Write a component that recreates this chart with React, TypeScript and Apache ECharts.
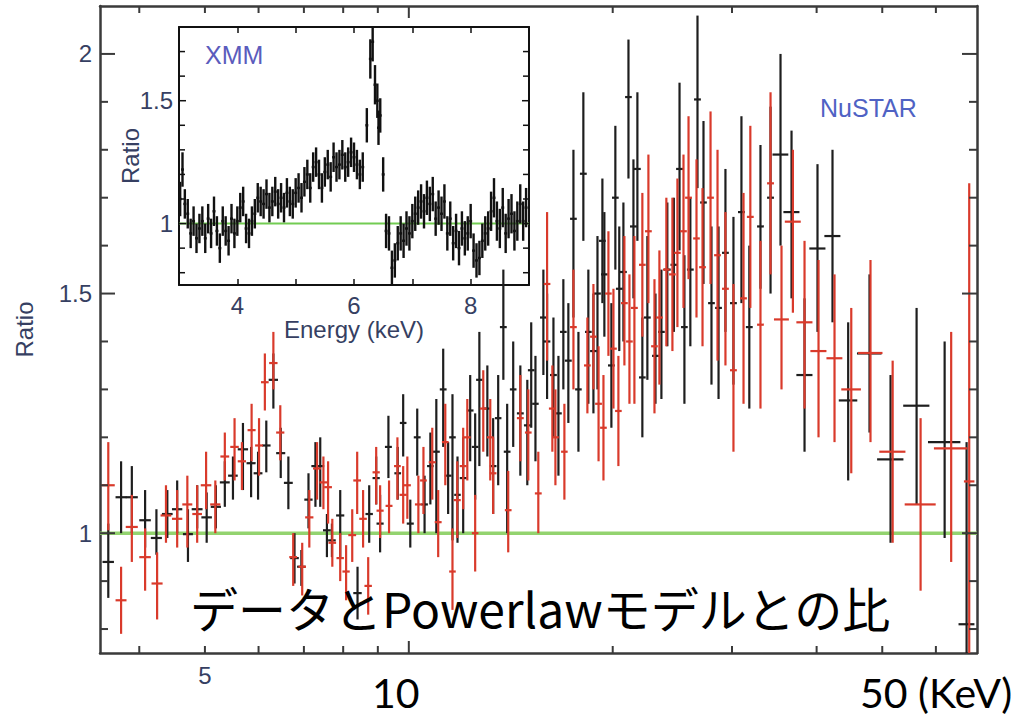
import React, { useEffect, useRef } from 'react';
import * as echarts from 'echarts';

// ---------------- NuSTAR FPMA (black) ----------------
const fpmaEnergy = [
  3.60, 3.76, 3.90, 4.08, 4.24, 4.40, 4.55, 4.72, 4.87, 5.03,
  5.19, 5.35, 5.50, 5.69, 5.85, 5.99, 6.16, 6.31, 6.47, 6.64,
  6.78, 6.94, 7.11, 7.28, 7.40, 7.57, 7.70, 7.92, 8.40, 8.74,
  8.95, 9.07, 9.33, 9.63, 9.81, 10.05, 10.29, 10.55, 10.76, 10.98,
  11.24, 11.43, 11.60, 11.80, 12.03, 12.32, 12.53, 12.71, 13.06, 13.32,
  13.55, 13.79, 13.97, 14.26, 14.61, 14.96, 15.16, 15.38, 15.80, 16.00,
  16.35, 16.63, 16.91, 17.20, 17.50, 17.80, 18.10, 18.41, 18.73, 18.99,
  19.31, 19.44, 19.91, 20.18, 20.45, 20.74, 21.10, 21.46, 21.75, 22.12,
  22.50, 23.13, 23.60, 24.08, 24.62, 25.10, 25.52, 26.04, 26.68, 27.23,
  27.98, 28.66, 29.34, 30.15, 30.98, 31.82, 33.05, 34.20, 35.38, 36.73,
  38.39, 40.12, 42.22, 44.53, 47.88, 51.43, 56.19, 61.81, 66.60,
];
const fpmaHalfWidth = [
  0.07, 0.07, 0.08, 0.08, 0.08, 0.08, 0.08, 0.08, 0.09, 0.09,
  0.09, 0.09, 0.09, 0.10, 0.09, 0.09, 0.09, 0.10, 0.10, 0.10,
  0.10, 0.10, 0.10, 0.10, 0.10, 0.10, 0.10, 0.11, 0.12, 0.11,
  0.11, 0.11, 0.11, 0.11, 0.11, 0.12, 0.12, 0.12, 0.12, 0.13,
  0.13, 0.13, 0.13, 0.13, 0.14, 0.14, 0.14, 0.14, 0.15, 0.15,
  0.15, 0.16, 0.16, 0.16, 0.17, 0.17, 0.17, 0.17, 0.18, 0.18,
  0.19, 0.19, 0.19, 0.20, 0.20, 0.20, 0.21, 0.21, 0.21, 0.22,
  0.22, 0.22, 0.23, 0.23, 0.23, 0.24, 0.24, 0.25, 0.25, 0.25,
  0.26, 0.27, 0.27, 0.28, 0.28, 0.29, 0.29, 0.30, 0.31, 0.31,
  0.32, 0.33, 0.34, 0.35, 0.36, 0.37, 0.38, 0.40, 0.95, 1.00,
  1.05, 1.10, 1.15, 1.40, 2.00, 2.30, 2.50, 3.40, 1.80,
];
const fpmaRatio = [
  0.94, 1.075, 1.075, 1.027, 0.99, 1.04, 1.05, 0.998, 1.05, 1.033,
  1.055, 1.106, 1.12, 1.175, 1.146, 1.125, 1.183, 1.32, 1.167, 1.105,
  0.948, 0.93, 1.07, 1.14, 1.14, 1.006, 0.985, 1.037, 0.875, 1.04,
  1.115, 1.02, 1.18, 1.125, 1.23, 1.02, 1.20, 1.06, 1.14, 1.17,
  1.30, 1.12, 1.20, 1.08, 1.115, 1.256, 1.18, 1.32, 1.26, 1.14,
  1.24, 1.43, 1.17, 1.30, 1.25, 1.225, 1.34, 1.27, 1.45, 1.40,
  1.33, 1.25, 1.42, 1.36, 1.656, 1.30, 1.75, 1.42, 1.38, 1.50,
  1.61, 1.54, 1.35, 1.70, 1.51, 1.545, 1.91, 1.64, 1.76, 1.325,
  1.45, 1.37, 1.42, 1.55, 1.56, 1.76, 1.43, 1.55, 1.905, 1.69,
  1.48, 1.47, 1.585, 1.48, 1.67, 1.43, 1.64, 1.70, 1.79, 1.67,
  1.33, 1.594, 1.62, 1.277, 1.375, 1.154, 1.266, 1.19, 0.81,
];
const fpmaLow = [
  0.865, 1.00, 1.00, 0.97, 0.955, 0.99, 1.00, 0.94, 1.01, 0.98,
  1.01, 1.055, 1.07, 1.09, 1.075, 1.07, 1.127, 1.26, 1.115, 1.05,
  0.895, 0.89, 1.01, 1.055, 1.055, 0.95, 0.95, 0.95, 0.82, 0.98,
  1.06, 0.96, 1.115, 1.07, 1.16, 0.97, 1.12, 1.00, 1.06, 1.00,
  1.18, 1.04, 0.985, 0.98, 1.00, 1.15, 1.07, 1.14, 1.16, 1.04,
  1.10, 1.32, 1.00, 1.18, 1.12, 1.10, 1.22, 1.15, 1.33, 1.28,
  1.20, 1.12, 1.30, 1.23, 1.45, 1.17, 1.61, 1.27, 1.25, 1.30,
  1.48, 1.41, 1.22, 1.55, 1.38, 1.40, 1.74, 1.49, 1.61, 1.20,
  1.32, 1.27, 1.28, 1.39, 1.42, 1.59, 1.27, 1.39, 1.72, 1.52,
  1.31, 1.28, 1.42, 1.31, 1.48, 1.26, 1.51, 1.50, 1.60, 1.49,
  1.17, 1.42, 1.44, 1.11, 1.21, 0.98, 1.06, 0.99, 0.70,
];
const fpmaHigh = [
  1.02, 1.15, 1.14, 1.09, 1.05, 1.09, 1.11, 1.05, 1.10, 1.085,
  1.10, 1.15, 1.16, 1.23, 1.18, 1.17, 1.235, 1.375, 1.22, 1.16,
  1.00, 0.965, 1.125, 1.19, 1.20, 1.04, 1.02, 1.09, 0.93, 1.10,
  1.16, 1.08, 1.245, 1.18, 1.29, 1.07, 1.26, 1.12, 1.21, 1.28,
  1.385, 1.19, 1.29, 1.16, 1.20, 1.33, 1.25, 1.42, 1.35, 1.24,
  1.33, 1.55, 1.27, 1.40, 1.35, 1.32, 1.44, 1.37, 1.55, 1.50,
  1.45, 1.37, 1.53, 1.48, 1.80, 1.42, 1.92, 1.55, 1.50, 1.62,
  1.74, 1.67, 1.48, 1.85, 1.64, 1.69, 2.03, 1.78, 1.92, 1.45,
  1.62, 1.50, 1.55, 1.69, 1.70, 1.94, 1.58, 1.70, 2.08, 1.86,
  1.64, 1.64, 1.76, 1.66, 1.87, 1.60, 1.81, 1.89, 2.00, 1.84,
  1.49, 1.77, 1.80, 1.44, 1.54, 1.33, 1.47, 1.40, 1.19,
];

// ---------------- NuSTAR FPMB (red) ----------------
const fpmbEnergy = [
  3.60, 3.76, 3.90, 4.08, 4.25, 4.38, 4.55, 4.71, 4.87, 5.02,
  5.18, 5.35, 5.53, 5.67, 5.86, 6.01, 6.13, 6.31, 6.46, 6.75,
  6.96, 7.13, 7.32, 7.48, 7.60, 7.71, 7.92, 8.08, 8.25, 8.39,
  8.56, 8.71, 8.95, 9.07, 9.35, 9.62, 9.81, 9.95, 10.33, 10.51,
  10.83, 11.05, 11.32, 11.60, 11.79, 12.03, 12.20, 12.53, 12.88, 13.19,
  13.32, 14.02, 14.61, 15.01, 15.53, 16.00, 16.29, 16.46, 16.97, 17.50,
  18.35, 18.73, 19.06, 19.38, 19.71, 20.05, 20.39, 20.81, 21.17, 21.53,
  22.12, 22.58, 23.05, 23.44, 24.00, 24.50, 24.92, 25.44, 25.88, 26.59,
  27.14, 27.89, 28.56, 29.34, 30.15, 31.20, 31.93, 33.05, 34.20, 35.50,
  36.90, 38.39, 40.26, 42.51, 45.00, 48.04, 51.80, 56.96, 63.20, 67.20,
];
const fpmbHalfWidth = [
  0.08, 0.07, 0.08, 0.08, 0.08, 0.08, 0.08, 0.08, 0.08, 0.09,
  0.09, 0.08, 0.08, 0.08, 0.08, 0.08, 0.08, 0.09, 0.09, 0.09,
  0.09, 0.10, 0.10, 0.10, 0.10, 0.10, 0.10, 0.10, 0.11, 0.11,
  0.11, 0.11, 0.11, 0.11, 0.11, 0.11, 0.12, 0.12, 0.12, 0.12,
  0.13, 0.13, 0.13, 0.13, 0.14, 0.14, 0.14, 0.14, 0.15, 0.15,
  0.15, 0.16, 0.17, 0.17, 0.18, 0.18, 0.19, 0.19, 0.19, 0.20,
  0.21, 0.21, 0.22, 0.22, 0.22, 0.23, 0.23, 0.24, 0.24, 0.25,
  0.25, 0.26, 0.26, 0.27, 0.27, 0.28, 0.28, 0.29, 0.30, 0.30,
  0.31, 0.32, 0.33, 0.34, 0.35, 0.36, 0.37, 0.38, 0.40, 0.90,
  1.00, 1.05, 1.10, 1.15, 1.50, 2.00, 2.30, 3.00, 3.60, 1.20,
];
const fpmbRatio = [
  1.10, 0.86, 1.013, 0.95, 0.895, 1.037, 1.03, 1.06, 1.04, 1.10,
  1.06, 1.16, 1.18, 1.15, 1.215, 1.183, 1.315, 1.355, 1.21, 0.95,
  0.93, 1.033, 1.135, 1.106, 1.096, 0.98, 0.948, 0.92, 0.996, 1.11,
  1.03, 0.89, 1.127, 1.047, 1.057, 1.14, 1.08, 1.10, 1.06, 1.11,
  1.148, 1.023, 1.19, 0.92, 1.069, 1.14, 1.20, 1.00, 1.26, 1.20,
  1.125, 1.048, 1.24, 1.21, 1.083, 1.52, 1.26, 1.20, 1.17, 1.43,
  1.35, 1.41, 1.27, 1.22, 1.50, 1.385, 1.255, 1.48, 1.40, 1.47,
  1.56, 1.63, 1.39, 1.45, 1.55, 1.54, 1.585, 1.63, 1.70, 1.615,
  1.555, 1.70, 1.58, 1.51, 1.34, 1.49, 1.66, 1.435, 1.73, 1.446,
  1.65, 1.44, 1.38, 1.365, 1.30, 1.376, 1.17, 1.06, 1.177, 1.108,
];
const fpmbLow = [
  1.006, 0.79, 0.94, 0.88, 0.82, 0.98, 0.97, 0.97, 0.98, 1.05,
  1.00, 1.11, 1.11, 1.09, 1.15, 1.12, 1.256, 1.30, 1.152, 0.89,
  0.87, 0.97, 1.07, 1.05, 1.02, 0.93, 0.90, 0.86, 0.94, 1.04,
  0.97, 0.83, 1.06, 0.99, 1.00, 1.07, 1.02, 1.03, 1.00, 1.04,
  1.07, 0.95, 1.10, 0.84, 0.99, 1.05, 1.11, 0.92, 1.17, 1.11,
  1.04, 0.96, 1.15, 1.11, 1.00, 1.36, 1.17, 1.10, 1.07, 1.30,
  1.25, 1.30, 1.15, 1.11, 1.37, 1.26, 1.14, 1.35, 1.27, 1.27,
  1.41, 1.48, 1.25, 1.31, 1.39, 1.38, 1.43, 1.47, 1.53, 1.45,
  1.39, 1.52, 1.36, 1.35, 1.17, 1.27, 1.47, 1.26, 1.54, 1.30,
  1.46, 1.26, 1.20, 1.19, 1.125, 1.19, 0.98, 0.88, 0.94, 0.70,
];
const fpmbHigh = [
  1.19, 0.93, 1.08, 1.01, 0.96, 1.10, 1.09, 1.12, 1.10, 1.17,
  1.11, 1.21, 1.24, 1.19, 1.27, 1.24, 1.375, 1.42, 1.267, 1.00,
  0.98, 1.09, 1.19, 1.16, 1.15, 1.03, 1.00, 0.975, 1.05, 1.17,
  1.09, 0.95, 1.18, 1.10, 1.11, 1.20, 1.14, 1.16, 1.12, 1.18,
  1.22, 1.09, 1.27, 1.01, 1.15, 1.22, 1.28, 1.08, 1.34, 1.28,
  1.20, 1.13, 1.33, 1.30, 1.17, 1.67, 1.35, 1.30, 1.27, 1.55,
  1.45, 1.52, 1.39, 1.33, 1.63, 1.51, 1.37, 1.62, 1.54, 1.62,
  1.71, 1.79, 1.53, 1.59, 1.70, 1.70, 1.74, 1.79, 1.87, 1.78,
  1.72, 1.88, 1.80, 1.67, 1.52, 1.71, 1.85, 1.61, 1.92, 1.60,
  1.80, 1.61, 1.57, 1.54, 1.47, 1.57, 1.36, 1.24, 1.42, 1.73,
];

// ---------------- XMM inset ----------------
const xmmEnergy = [
  3.02, 3.06, 3.10, 3.15, 3.20, 3.25, 3.30, 3.35, 3.40, 3.45,
  3.50, 3.55, 3.60, 3.65, 3.70, 3.75, 3.80, 3.85, 3.90, 3.95,
  4.00, 4.05, 4.10, 4.15, 4.20, 4.25, 4.30, 4.35, 4.40, 4.45,
  4.50, 4.55, 4.60, 4.65, 4.70, 4.75, 4.80, 4.85, 4.90, 4.95,
  5.00, 5.05, 5.10, 5.15, 5.20, 5.25, 5.30, 5.35, 5.40, 5.45,
  5.50, 5.55, 5.60, 5.65, 5.70, 5.75, 5.80, 5.85, 5.90, 5.95,
  6.00, 6.05, 6.10, 6.15, 6.22, 6.28, 6.32, 6.36, 6.40, 6.42,
  6.45, 6.50, 6.55, 6.60, 6.65, 6.70, 6.75, 6.80, 6.85, 6.90,
  6.95, 7.00, 7.05, 7.10, 7.15, 7.20, 7.25, 7.30, 7.35, 7.40,
  7.45, 7.50, 7.55, 7.60, 7.65, 7.70, 7.75, 7.80, 7.85, 7.90,
  7.95, 8.00, 8.05, 8.10, 8.15, 8.20, 8.25, 8.30, 8.35, 8.40,
  8.45, 8.50, 8.55, 8.60, 8.65, 8.70, 8.75, 8.80, 8.85, 8.90,
  8.95,
];
const xmmRatio = [
  1.10, 1.22, 1.08, 1.04, 0.96, 1.01, 0.94, 0.98, 1.01, 0.94,
  1.02, 0.96, 1.05, 0.97, 0.90, 1.01, 0.97, 0.93, 1.02, 0.96,
  1.01, 1.065, 1.09, 0.98, 0.96, 1.01, 1.04, 1.105, 1.09, 1.08,
  1.12, 1.065, 1.09, 1.13, 1.08, 1.105, 1.065, 1.125, 1.09, 1.08,
  1.125, 1.145, 1.105, 1.17, 1.20, 1.145, 1.23, 1.25, 1.20, 1.145,
  1.21, 1.24, 1.19, 1.27, 1.23, 1.24, 1.28, 1.23, 1.25, 1.29,
  1.27, 1.24, 1.20, 1.23, 1.40, 1.67, 1.74, 1.565, 1.50, 1.39,
  1.44, 1.20, 0.97, 0.96, 0.82, 0.85, 0.92, 0.96, 0.93, 0.98,
  0.96, 1.01, 1.04, 1.065, 1.09, 1.05, 1.105, 1.08, 1.12, 1.02,
  1.065, 1.04, 1.09, 0.96, 1.02, 0.92, 0.97, 0.90, 0.98, 0.94,
  0.96, 1.01, 0.89, 0.85, 0.86, 0.93, 0.96, 0.98, 1.05, 1.105,
  1.01, 0.98, 1.065, 0.96, 1.02, 1.04, 0.97, 1.01, 1.08, 1.01,
  1.065,
];
const xmmError = [
  0.07, 0.07, 0.06, 0.06, 0.06, 0.06, 0.06, 0.06, 0.06, 0.06,
  0.06, 0.06, 0.06, 0.06, 0.06, 0.06, 0.06, 0.06, 0.06, 0.06,
  0.06, 0.06, 0.06, 0.06, 0.06, 0.06, 0.06, 0.06, 0.06, 0.06,
  0.06, 0.06, 0.06, 0.06, 0.06, 0.06, 0.06, 0.06, 0.06, 0.06,
  0.06, 0.06, 0.06, 0.06, 0.06, 0.06, 0.06, 0.06, 0.06, 0.06,
  0.06, 0.06, 0.06, 0.06, 0.06, 0.06, 0.06, 0.06, 0.06, 0.06,
  0.06, 0.06, 0.06, 0.06, 0.07, 0.08, 0.08, 0.08, 0.07, 0.07,
  0.07, 0.07, 0.07, 0.07, 0.07, 0.07, 0.07, 0.07, 0.07, 0.07,
  0.07, 0.07, 0.07, 0.07, 0.07, 0.07, 0.07, 0.07, 0.07, 0.07,
  0.07, 0.07, 0.07, 0.07, 0.07, 0.07, 0.07, 0.07, 0.07, 0.07,
  0.07, 0.07, 0.07, 0.07, 0.07, 0.07, 0.07, 0.07, 0.08, 0.08,
  0.08, 0.08, 0.08, 0.08, 0.08, 0.08, 0.08, 0.08, 0.08, 0.08,
  0.08,
];
const xmmHalfWidth = 0.025;

// model (power law) ratio
const modelRatio = 1;

// ticks
const mainXTicks = [4, 5, 6, 7, 8, 9, 10, 20, 30, 40, 50, 60];
const mainXMajorTicks = [10];
const mainXTickLabels = [5];
const mainYTicks = [0.8, 0.9, 1, 1.1, 1.2, 1.3, 1.4, 1.5, 1.6, 1.7, 1.8, 1.9, 2];
const mainYMajorTicks = [1, 1.5, 2];
const mainYTickLabels = [1, 1.5, 2];
const insetYTicks = [0.8, 0.9, 1, 1.1, 1.2, 1.3, 1.4, 1.5, 1.6, 1.7];
const insetYMajorTicks = [1, 1.5];
const insetYTickLabels = [1, 1.5];

// axis ranges
const MAIN_X = [3.5, 69];
const MAIN_Y = [0.75, 2.1];
const INSET_X = [3, 9];
const INSET_Y = [0.75, 1.8];

const LABEL_FONT = '"Liberation Sans", Arial, Helvetica, sans-serif';
const LABEL_COLOR = '#363f62';
const AXIS_COLOR = '#3a3a3a';

function errorBarSeries(name, xi, yi, energy, halfW, ratio, low, high, xr, yr, color, width, z) {
  return {
    type: 'custom',
    name,
    xAxisIndex: xi,
    yAxisIndex: yi,
    z,
    data: energy.map((e, i) => [e, ratio[i], low[i], high[i], halfW[i]]),
    encode: { x: 0, y: 1 },
    renderItem: (params, api) => {
      const e = api.value(0);
      const r = api.value(1);
      const lo = Math.max(api.value(2), yr[0]);
      const hi = Math.min(api.value(3), yr[1]);
      const dw = api.value(4);
      const c = api.coord([e, r]);
      const top = api.coord([e, hi]);
      const bot = api.coord([e, lo]);
      const l = api.coord([Math.max(e - dw, xr[0]), r]);
      const rr = api.coord([Math.min(e + dw, xr[1]), r]);
      const children = [
        { type: 'line', shape: { x1: c[0], y1: top[1], x2: c[0], y2: bot[1] }, style: { stroke: color, lineWidth: width } },
      ];
      if (r >= yr[0] && r <= yr[1]) {
        children.push({ type: 'line', shape: { x1: l[0], y1: c[1], x2: rr[0], y2: c[1] }, style: { stroke: color, lineWidth: width } });
      }
      return { type: 'group', children };
    },
  };
}

function tickSeries(opts) {
  const { xi, yi, orient, values, majors, labels, otherRange, majorLen, minorLen, color, width, labelSize, labelGap, labelText } = opts;
  return {
    type: 'custom',
    xAxisIndex: xi,
    yAxisIndex: yi,
    z: 6,
    silent: true,
    data: values.map((v) => (orient === 'x' ? [v, otherRange[0]] : [otherRange[0], v])),
    encode: { x: 0, y: 1 },
    renderItem: (params, api) => {
      const v = api.value(orient === 'x' ? 0 : 1);
      const p0 = orient === 'x' ? api.coord([v, otherRange[0]]) : api.coord([otherRange[0], v]);
      const p1 = orient === 'x' ? api.coord([v, otherRange[1]]) : api.coord([otherRange[1], v]);
      const len = majors.indexOf(v) >= 0 ? majorLen : minorLen;
      const st = { stroke: color, lineWidth: width };
      const children = [];
      if (orient === 'x') {
        children.push({ type: 'line', shape: { x1: p0[0], y1: p0[1], x2: p0[0], y2: p0[1] - len }, style: st });
        children.push({ type: 'line', shape: { x1: p1[0], y1: p1[1], x2: p1[0], y2: p1[1] + len }, style: st });
        if (labels.indexOf(v) >= 0) {
          children.push({
            type: 'text', x: p0[0], y: p0[1] + labelGap,
            style: { text: labelText(v), fill: LABEL_COLOR, font: `${labelSize}px ${LABEL_FONT}`, textAlign: 'center', textVerticalAlign: 'middle' },
          });
        }
      } else {
        children.push({ type: 'line', shape: { x1: p0[0], y1: p0[1], x2: p0[0] + len, y2: p0[1] }, style: st });
        children.push({ type: 'line', shape: { x1: p1[0], y1: p1[1], x2: p1[0] - len, y2: p1[1] }, style: st });
        if (labels.indexOf(v) >= 0) {
          children.push({
            type: 'text', x: p0[0] - labelGap, y: p0[1],
            style: { text: labelText(v), fill: LABEL_COLOR, font: `${labelSize}px ${LABEL_FONT}`, textAlign: 'right', textVerticalAlign: 'middle' },
          });
        }
      }
      return { type: 'group', children };
    },
  };
}

const hidden = {
  axisTick: { show: false },
  axisLabel: { show: false },
  splitLine: { show: false },
  minorTick: { show: false },
  minorSplitLine: { show: false },
};

const mainAxisLine = { show: true, onZero: false, lineStyle: { color: AXIS_COLOR, width: 2.5 } };
const insetAxisLine = { show: true, onZero: false, lineStyle: { color: '#111', width: 2 } };

const option = {
  animation: false,
  backgroundColor: '#ffffff',
  grid: [
    { left: 100, top: 6, width: 877, height: 647, show: false, containLabel: false, outerBoundsMode: 'none' },
    { left: 179, top: 27, width: 350, height: 258, show: true, backgroundColor: '#ffffff', borderWidth: 0, containLabel: false, outerBoundsMode: 'none' },
  ],
  xAxis: [
    { gridIndex: 0, type: 'log', logBase: 10, min: MAIN_X[0], max: MAIN_X[1], position: 'bottom', axisLine: mainAxisLine, ...hidden },
    { gridIndex: 0, type: 'log', logBase: 10, min: MAIN_X[0], max: MAIN_X[1], position: 'top', axisLine: mainAxisLine, ...hidden },
    {
      gridIndex: 1, type: 'value', min: INSET_X[0], max: INSET_X[1], interval: 1, position: 'bottom',
      axisLine: insetAxisLine,
      axisTick: { show: true, inside: true, length: 6, lineStyle: { color: '#111', width: 1.5 } },
      axisLabel: {
        show: true, margin: 8, fontSize: 24, color: LABEL_COLOR, fontFamily: LABEL_FONT,
        formatter: (v) => (v % 2 === 0 ? String(v) : ''),
      },
      splitLine: { show: false },
      name: 'Energy (keV)', nameLocation: 'middle', nameGap: 30,
      nameTextStyle: { fontSize: 24, color: LABEL_COLOR, fontFamily: LABEL_FONT },
    },
    {
      gridIndex: 1, type: 'value', min: INSET_X[0], max: INSET_X[1], interval: 1, position: 'top',
      axisLine: insetAxisLine,
      axisTick: { show: true, inside: true, length: 6, lineStyle: { color: '#111', width: 1.5 } },
      axisLabel: { show: false }, splitLine: { show: false },
    },
  ],
  yAxis: [
    {
      gridIndex: 0, type: 'value', min: MAIN_Y[0], max: MAIN_Y[1], position: 'left', axisLine: mainAxisLine, ...hidden,
      name: 'Ratio', nameLocation: 'middle', nameGap: 64,
      nameTextStyle: { fontSize: 24, color: LABEL_COLOR, fontFamily: LABEL_FONT },
    },
    { gridIndex: 0, type: 'value', min: MAIN_Y[0], max: MAIN_Y[1], position: 'right', axisLine: mainAxisLine, ...hidden },
    {
      gridIndex: 1, type: 'value', min: INSET_Y[0], max: INSET_Y[1], position: 'left', axisLine: insetAxisLine, ...hidden,
      name: 'Ratio', nameLocation: 'middle', nameGap: 37,
      nameTextStyle: { fontSize: 24, color: LABEL_COLOR, fontFamily: LABEL_FONT },
    },
    { gridIndex: 1, type: 'value', min: INSET_Y[0], max: INSET_Y[1], position: 'right', axisLine: insetAxisLine, ...hidden },
  ],
  series: [
    {
      type: 'line', xAxisIndex: 2, yAxisIndex: 2, z: 2, symbol: 'none',
      data: [[INSET_X[0], modelRatio], [INSET_X[1], modelRatio]],
      lineStyle: { color: '#72cc52', width: 2 },
    },
    errorBarSeries('XMM', 2, 2, xmmEnergy, xmmEnergy.map(() => xmmHalfWidth), xmmRatio,
      xmmRatio.map((r, i) => r - xmmError[i]), xmmRatio.map((r, i) => r + xmmError[i]),
      INSET_X, INSET_Y, '#111111', 2.4, 3),
    tickSeries({
      xi: 2, yi: 2, orient: 'y', values: insetYTicks, majors: insetYMajorTicks, labels: insetYTickLabels,
      otherRange: INSET_X, majorLen: 7, minorLen: 6, color: '#111', width: 1.5, labelSize: 24, labelGap: 6,
      labelText: (v) => String(v),
    }),
    {
      type: 'line', xAxisIndex: 0, yAxisIndex: 0, z: 2, symbol: 'none',
      data: [[MAIN_X[0], modelRatio], [MAIN_X[1], modelRatio]],
      lineStyle: { color: '#93d36f', width: 3.5 },
    },
    errorBarSeries('FPMA', 0, 0, fpmaEnergy, fpmaHalfWidth, fpmaRatio, fpmaLow, fpmaHigh, MAIN_X, MAIN_Y, '#1e1e1e', 2.2, 4),
    errorBarSeries('FPMB', 0, 0, fpmbEnergy, fpmbHalfWidth, fpmbRatio, fpmbLow, fpmbHigh, MAIN_X, MAIN_Y, '#d93a2b', 2.2, 5),
    tickSeries({
      xi: 0, yi: 0, orient: 'x', values: mainXTicks, majors: mainXMajorTicks, labels: mainXTickLabels,
      otherRange: MAIN_Y, majorLen: 12, minorLen: 7, color: AXIS_COLOR, width: 2, labelSize: 24, labelGap: 22,
      labelText: (v) => String(v),
    }),
    tickSeries({
      xi: 0, yi: 0, orient: 'y', values: mainYTicks, majors: mainYMajorTicks, labels: mainYTickLabels,
      otherRange: MAIN_X, majorLen: 15, minorLen: 8, color: AXIS_COLOR, width: 2, labelSize: 24, labelGap: 8,
      labelText: (v) => String(v),
    }),
  ],
  graphic: [
    { type: 'text', x: 205, y: 55, z: 20, style: { text: 'XMM', font: `25px ${LABEL_FONT}`, fill: '#5b5cbd', textVerticalAlign: 'middle' } },
    { type: 'text', x: 820, y: 108, z: 20, style: { text: 'NuSTAR', font: `25px ${LABEL_FONT}`, fill: '#4f62c4', textVerticalAlign: 'middle' } },
    { type: 'text', x: 190, y: 607, z: 20, style: { text: 'データとPowerlawモデルとの比', font: '48px "Noto Sans CJK JP", sans-serif', fill: '#000', textVerticalAlign: 'middle' } },
    { type: 'text', x: 372, y: 692, z: 20, style: { text: '10', font: '41px Lato, "Open Sans", sans-serif', fill: '#000', textVerticalAlign: 'middle' } },
    { type: 'text', x: 860, y: 692, z: 20, style: { text: '50 (KeV)', font: '41px Lato, "Open Sans", sans-serif', fill: '#000', textVerticalAlign: 'middle' } },
  ],
};

export default function App() {
  const ref = useRef(null);
  useEffect(() => {
    document.body.style.margin = '0';
    const chart = echarts.init(ref.current, null, { renderer: 'svg' });
    chart.setOption(option);
    return () => chart.dispose();
  }, []);
  return (
    <div
      ref={ref}
      style={{ position: 'fixed', left: 0, top: 0, width: 1023, height: 720, background: '#fff' }}
    />
  );
}
